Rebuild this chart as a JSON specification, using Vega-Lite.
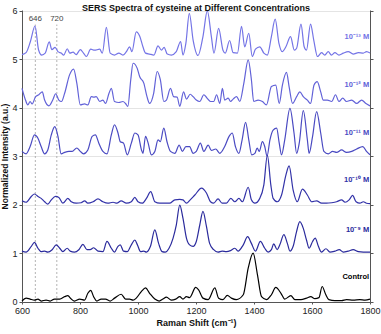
{
  "$schema": "https://vega.github.io/schema/vega-lite/v6.json",
  "width": 348,
  "height": 292,
  "autosize": "none",
  "padding": {"left": 22, "top": 10, "right": 11, "bottom": 31},
  "background": "white",
  "title": {"text": "SERS Spectra of cysteine at Different Concentrations", "fontSize": 9, "font": "Liberation Sans", "fontWeight": "bold", "color": "#111", "anchor": "middle", "offset": -6},
  "config": {"view": {"stroke": null}, "font": "Liberation Sans"},
  "datasets": {
    "spec": [
      {"s":"13","x":600,"y":5.10},{"s":"13","x":614,"y":5.14},{"s":"13","x":629,"y":5.37},{"s":"13","x":645,"y":5.69},{"s":"13","x":657,"y":5.20},{"s":"13","x":668,"y":5.09},{"s":"13","x":680,"y":5.13},{"s":"13","x":694,"y":5.36},{"s":"13","x":703,"y":5.20},{"s":"13","x":714,"y":5.25},{"s":"13","x":724,"y":5.16},{"s":"13","x":735,"y":5.13},{"s":"13","x":744,"y":5.09},{"s":"13","x":756,"y":5.22},{"s":"13","x":765,"y":5.13},{"s":"13","x":776,"y":5.15},{"s":"13","x":787,"y":5.10},{"s":"13","x":801,"y":5.20},{"s":"13","x":812,"y":5.13},{"s":"13","x":822,"y":5.06},{"s":"13","x":837,"y":5.21},{"s":"13","x":850,"y":5.19},{"s":"13","x":868,"y":5.21},{"s":"13","x":877,"y":5.13},{"s":"13","x":891,"y":5.66},{"s":"13","x":904,"y":5.13},{"s":"13","x":919,"y":5.09},{"s":"13","x":934,"y":5.13},{"s":"13","x":948,"y":5.09},{"s":"13","x":960,"y":5.16},{"s":"13","x":971,"y":5.26},{"s":"13","x":979,"y":5.16},{"s":"13","x":994,"y":5.57},{"s":"13","x":1006,"y":5.48},{"s":"13","x":1017,"y":5.26},{"s":"13","x":1026,"y":5.13},{"s":"13","x":1040,"y":5.11},{"s":"13","x":1055,"y":5.09},{"s":"13","x":1069,"y":5.28},{"s":"13","x":1081,"y":5.19},{"s":"13","x":1090,"y":5.25},{"s":"13","x":1101,"y":5.11},{"s":"13","x":1115,"y":5.09},{"s":"13","x":1132,"y":5.16},{"s":"13","x":1147,"y":5.37},{"s":"13","x":1155,"y":5.09},{"s":"13","x":1165,"y":5.33},{"s":"13","x":1177,"y":5.95},{"s":"13","x":1190,"y":5.40},{"s":"13","x":1207,"y":5.08},{"s":"13","x":1224,"y":5.47},{"s":"13","x":1239,"y":6.0},{"s":"13","x":1253,"y":5.47},{"s":"13","x":1262,"y":5.13},{"s":"13","x":1278,"y":5.64},{"s":"13","x":1293,"y":5.19},{"s":"13","x":1301,"y":5.13},{"s":"13","x":1316,"y":5.39},{"s":"13","x":1328,"y":5.14},{"s":"13","x":1343,"y":5.13},{"s":"13","x":1357,"y":5.68},{"s":"13","x":1368,"y":5.26},{"s":"13","x":1382,"y":5.54},{"s":"13","x":1394,"y":5.06},{"s":"13","x":1405,"y":5.21},{"s":"13","x":1420,"y":5.26},{"s":"13","x":1434,"y":5.13},{"s":"13","x":1446,"y":5.09},{"s":"13","x":1460,"y":5.47},{"s":"13","x":1473,"y":5.83},{"s":"13","x":1486,"y":5.33},{"s":"13","x":1497,"y":5.16},{"s":"13","x":1510,"y":5.26},{"s":"13","x":1526,"y":5.47},{"s":"13","x":1539,"y":5.19},{"s":"13","x":1547,"y":5.23},{"s":"13","x":1562,"y":5.73},{"s":"13","x":1573,"y":5.26},{"s":"13","x":1581,"y":5.19},{"s":"13","x":1595,"y":5.73},{"s":"13","x":1606,"y":5.40},{"s":"13","x":1619,"y":5.06},{"s":"13","x":1633,"y":5.14},{"s":"13","x":1644,"y":5.09},{"s":"13","x":1656,"y":5.16},{"s":"13","x":1667,"y":5.09},{"s":"13","x":1679,"y":5.14},{"s":"13","x":1693,"y":5.09},{"s":"13","x":1708,"y":5.13},{"s":"13","x":1725,"y":5.16},{"s":"13","x":1742,"y":5.11},{"s":"13","x":1760,"y":5.14},{"s":"13","x":1777,"y":5.13},{"s":"13","x":1788,"y":5.16},{"s":"13","x":1800,"y":5.13},

      {"s":"12","x":600,"y":4.40},{"s":"12","x":612,"y":4.16},{"s":"12","x":620,"y":4.06},{"s":"12","x":628,"y":4.13},{"s":"12","x":635,"y":4.08},{"s":"12","x":647,"y":4.23},{"s":"12","x":658,"y":4.27},{"s":"12","x":670,"y":4.33},{"s":"12","x":678,"y":4.16},{"s":"12","x":693,"y":4.04},{"s":"12","x":706,"y":4.16},{"s":"12","x":716,"y":4.29},{"s":"12","x":727,"y":4.16},{"s":"12","x":736,"y":4.13},{"s":"12","x":747,"y":4.30},{"s":"12","x":764,"y":4.68},{"s":"12","x":778,"y":4.80},{"s":"12","x":789,"y":4.51},{"s":"12","x":801,"y":4.06},{"s":"12","x":816,"y":4.08},{"s":"12","x":827,"y":4.06},{"s":"12","x":839,"y":4.23},{"s":"12","x":848,"y":4.22},{"s":"12","x":856,"y":4.23},{"s":"12","x":868,"y":4.13},{"s":"12","x":879,"y":4.16},{"s":"12","x":888,"y":4.09},{"s":"12","x":900,"y":4.30},{"s":"12","x":908,"y":4.40},{"s":"12","x":919,"y":4.13},{"s":"12","x":934,"y":4.11},{"s":"12","x":948,"y":4.13},{"s":"12","x":957,"y":4.09},{"s":"12","x":965,"y":4.03},{"s":"12","x":975,"y":4.58},{"s":"12","x":983,"y":4.92},{"s":"12","x":997,"y":4.82},{"s":"12","x":1006,"y":4.64},{"s":"12","x":1020,"y":4.51},{"s":"12","x":1031,"y":4.23},{"s":"12","x":1040,"y":4.09},{"s":"12","x":1054,"y":4.30},{"s":"12","x":1066,"y":4.75},{"s":"12","x":1077,"y":4.58},{"s":"12","x":1089,"y":4.13},{"s":"12","x":1098,"y":4.16},{"s":"12","x":1112,"y":4.40},{"s":"12","x":1123,"y":4.23},{"s":"12","x":1135,"y":4.22},{"s":"12","x":1144,"y":4.03},{"s":"12","x":1157,"y":4.33},{"s":"12","x":1167,"y":4.18},{"s":"12","x":1180,"y":4.28},{"s":"12","x":1190,"y":4.23},{"s":"12","x":1201,"y":4.16},{"s":"12","x":1213,"y":4.13},{"s":"12","x":1227,"y":4.27},{"s":"12","x":1238,"y":4.20},{"s":"12","x":1250,"y":4.13},{"s":"12","x":1261,"y":4.13},{"s":"12","x":1271,"y":4.27},{"s":"12","x":1282,"y":4.09},{"s":"12","x":1291,"y":4.40},{"s":"12","x":1299,"y":4.16},{"s":"12","x":1311,"y":4.20},{"s":"12","x":1319,"y":4.13},{"s":"12","x":1328,"y":4.18},{"s":"12","x":1340,"y":4.23},{"s":"12","x":1351,"y":4.13},{"s":"12","x":1365,"y":4.51},{"s":"12","x":1380,"y":4.99},{"s":"12","x":1391,"y":4.58},{"s":"12","x":1399,"y":4.13},{"s":"12","x":1414,"y":4.16},{"s":"12","x":1429,"y":4.13},{"s":"12","x":1443,"y":4.06},{"s":"12","x":1460,"y":4.44},{"s":"12","x":1475,"y":4.47},{"s":"12","x":1487,"y":4.09},{"s":"12","x":1498,"y":4.47},{"s":"12","x":1512,"y":4.73},{"s":"12","x":1521,"y":4.44},{"s":"12","x":1533,"y":4.09},{"s":"12","x":1547,"y":4.23},{"s":"12","x":1558,"y":4.33},{"s":"12","x":1570,"y":4.23},{"s":"12","x":1584,"y":4.16},{"s":"12","x":1595,"y":4.09},{"s":"12","x":1607,"y":4.47},{"s":"12","x":1618,"y":4.54},{"s":"12","x":1630,"y":4.33},{"s":"12","x":1639,"y":4.16},{"s":"12","x":1653,"y":4.16},{"s":"12","x":1668,"y":4.13},{"s":"12","x":1681,"y":4.27},{"s":"12","x":1693,"y":4.13},{"s":"12","x":1706,"y":4.20},{"s":"12","x":1719,"y":4.13},{"s":"12","x":1737,"y":4.16},{"s":"12","x":1754,"y":4.09},{"s":"12","x":1771,"y":4.16},{"s":"12","x":1786,"y":4.09},{"s":"12","x":1800,"y":4.04},

      {"s":"11","x":600,"y":3.10},{"s":"11","x":614,"y":3.05},{"s":"11","x":628,"y":3.20},{"s":"11","x":643,"y":3.44},{"s":"11","x":655,"y":3.37},{"s":"11","x":666,"y":3.20},{"s":"11","x":678,"y":3.05},{"s":"11","x":689,"y":3.13},{"s":"11","x":701,"y":3.44},{"s":"11","x":713,"y":3.61},{"s":"11","x":724,"y":3.41},{"s":"11","x":735,"y":3.05},{"s":"11","x":747,"y":3.08},{"s":"11","x":762,"y":3.10},{"s":"11","x":773,"y":3.10},{"s":"11","x":789,"y":3.17},{"s":"11","x":801,"y":3.10},{"s":"11","x":812,"y":3.05},{"s":"11","x":827,"y":3.13},{"s":"11","x":842,"y":3.41},{"s":"11","x":853,"y":3.44},{"s":"11","x":865,"y":3.27},{"s":"11","x":879,"y":3.10},{"s":"11","x":893,"y":3.05},{"s":"11","x":908,"y":3.44},{"s":"11","x":919,"y":3.65},{"s":"11","x":931,"y":3.48},{"s":"11","x":939,"y":3.30},{"s":"11","x":950,"y":3.27},{"s":"11","x":963,"y":3.03},{"s":"11","x":977,"y":3.27},{"s":"11","x":989,"y":3.48},{"s":"11","x":1000,"y":3.44},{"s":"11","x":1012,"y":3.13},{"s":"11","x":1017,"y":3.06},{"s":"11","x":1026,"y":3.41},{"s":"11","x":1035,"y":3.27},{"s":"11","x":1046,"y":3.03},{"s":"11","x":1058,"y":3.10},{"s":"11","x":1069,"y":3.34},{"s":"11","x":1077,"y":3.30},{"s":"11","x":1089,"y":3.58},{"s":"11","x":1100,"y":3.30},{"s":"11","x":1112,"y":3.10},{"s":"11","x":1127,"y":3.06},{"s":"11","x":1142,"y":3.23},{"s":"11","x":1153,"y":3.10},{"s":"11","x":1165,"y":3.20},{"s":"11","x":1178,"y":3.20},{"s":"11","x":1190,"y":3.06},{"s":"11","x":1201,"y":3.10},{"s":"11","x":1215,"y":3.27},{"s":"11","x":1227,"y":3.10},{"s":"11","x":1242,"y":3.23},{"s":"11","x":1253,"y":3.12},{"s":"11","x":1268,"y":3.15},{"s":"11","x":1282,"y":3.06},{"s":"11","x":1299,"y":3.20},{"s":"11","x":1314,"y":3.41},{"s":"11","x":1325,"y":3.48},{"s":"11","x":1336,"y":3.20},{"s":"11","x":1348,"y":3.06},{"s":"11","x":1359,"y":3.34},{"s":"11","x":1371,"y":3.70},{"s":"11","x":1382,"y":3.34},{"s":"11","x":1392,"y":3.03},{"s":"11","x":1403,"y":3.06},{"s":"11","x":1411,"y":3.17},{"s":"11","x":1418,"y":3.10},{"s":"11","x":1429,"y":3.30},{"s":"11","x":1437,"y":3.20},{"s":"11","x":1445,"y":3.00},{"s":"11","x":1455,"y":3.34},{"s":"11","x":1466,"y":3.54},{"s":"11","x":1478,"y":3.58},{"s":"11","x":1487,"y":3.27},{"s":"11","x":1495,"y":3.03},{"s":"11","x":1506,"y":3.34},{"s":"11","x":1524,"y":3.99},{"s":"11","x":1538,"y":3.48},{"s":"11","x":1547,"y":3.06},{"s":"11","x":1556,"y":3.27},{"s":"11","x":1570,"y":3.94},{"s":"11","x":1584,"y":3.34},{"s":"11","x":1590,"y":3.06},{"s":"11","x":1602,"y":3.41},{"s":"11","x":1616,"y":3.92},{"s":"11","x":1630,"y":3.48},{"s":"11","x":1641,"y":3.10},{"s":"11","x":1656,"y":3.05},{"s":"11","x":1671,"y":3.10},{"s":"11","x":1685,"y":3.08},{"s":"11","x":1702,"y":3.13},{"s":"11","x":1719,"y":3.08},{"s":"11","x":1737,"y":3.10},{"s":"11","x":1754,"y":3.15},{"s":"11","x":1775,"y":3.20},{"s":"11","x":1788,"y":3.10},{"s":"11","x":1800,"y":3.03},

      {"s":"10","x":600,"y":2.08},{"s":"10","x":614,"y":2.05},{"s":"10","x":632,"y":2.17},{"s":"10","x":643,"y":2.22},{"s":"10","x":655,"y":2.17},{"s":"10","x":666,"y":2.13},{"s":"10","x":678,"y":2.06},{"s":"10","x":689,"y":2.01},{"s":"10","x":701,"y":2.10},{"s":"10","x":716,"y":2.17},{"s":"10","x":727,"y":2.15},{"s":"10","x":741,"y":2.03},{"s":"10","x":758,"y":2.13},{"s":"10","x":770,"y":2.06},{"s":"10","x":787,"y":2.03},{"s":"10","x":804,"y":2.04},{"s":"10","x":816,"y":2.08},{"s":"10","x":827,"y":2.03},{"s":"10","x":845,"y":2.06},{"s":"10","x":862,"y":2.12},{"s":"10","x":879,"y":2.06},{"s":"10","x":896,"y":2.03},{"s":"10","x":914,"y":2.05},{"s":"10","x":927,"y":2.03},{"s":"10","x":942,"y":2.08},{"s":"10","x":960,"y":2.03},{"s":"10","x":977,"y":2.06},{"s":"10","x":989,"y":2.15},{"s":"10","x":1000,"y":2.06},{"s":"10","x":1015,"y":2.03},{"s":"10","x":1029,"y":2.13},{"s":"10","x":1044,"y":2.27},{"s":"10","x":1058,"y":2.06},{"s":"10","x":1075,"y":2.03},{"s":"10","x":1092,"y":2.03},{"s":"10","x":1109,"y":2.03},{"s":"10","x":1127,"y":2.10},{"s":"10","x":1144,"y":2.11},{"s":"10","x":1155,"y":2.10},{"s":"10","x":1167,"y":2.03},{"s":"10","x":1180,"y":2.10},{"s":"10","x":1196,"y":2.20},{"s":"10","x":1219,"y":2.34},{"s":"10","x":1236,"y":2.24},{"s":"10","x":1250,"y":2.06},{"s":"10","x":1261,"y":2.03},{"s":"10","x":1276,"y":2.12},{"s":"10","x":1290,"y":2.03},{"s":"10","x":1305,"y":2.03},{"s":"10","x":1320,"y":2.13},{"s":"10","x":1334,"y":2.06},{"s":"10","x":1348,"y":2.13},{"s":"10","x":1360,"y":2.06},{"s":"10","x":1380,"y":2.36},{"s":"10","x":1391,"y":2.10},{"s":"10","x":1403,"y":2.03},{"s":"10","x":1420,"y":2.13},{"s":"10","x":1434,"y":2.41},{"s":"10","x":1446,"y":3.02},{"s":"10","x":1458,"y":2.41},{"s":"10","x":1466,"y":2.13},{"s":"10","x":1480,"y":2.06},{"s":"10","x":1495,"y":2.20},{"s":"10","x":1510,"y":2.61},{"s":"10","x":1521,"y":2.80},{"s":"10","x":1535,"y":2.30},{"s":"10","x":1549,"y":2.06},{"s":"10","x":1567,"y":2.32},{"s":"10","x":1584,"y":2.20},{"s":"10","x":1599,"y":2.06},{"s":"10","x":1616,"y":2.08},{"s":"10","x":1633,"y":2.03},{"s":"10","x":1650,"y":2.03},{"s":"10","x":1668,"y":2.04},{"s":"10","x":1685,"y":2.06},{"s":"10","x":1702,"y":2.10},{"s":"10","x":1714,"y":2.05},{"s":"10","x":1728,"y":2.10},{"s":"10","x":1740,"y":2.19},{"s":"10","x":1752,"y":2.06},{"s":"10","x":1765,"y":2.03},{"s":"10","x":1777,"y":2.06},{"s":"10","x":1788,"y":2.03},{"s":"10","x":1800,"y":2.02},

      {"s":"9","x":600,"y":1.04},{"s":"9","x":614,"y":1.02},{"s":"9","x":632,"y":1.14},{"s":"9","x":643,"y":1.22},{"s":"9","x":655,"y":1.10},{"s":"9","x":666,"y":1.03},{"s":"9","x":678,"y":1.04},{"s":"9","x":689,"y":1.02},{"s":"9","x":704,"y":1.07},{"s":"9","x":718,"y":1.17},{"s":"9","x":730,"y":1.10},{"s":"9","x":741,"y":1.03},{"s":"9","x":756,"y":1.10},{"s":"9","x":766,"y":1.04},{"s":"9","x":781,"y":1.02},{"s":"9","x":796,"y":1.07},{"s":"9","x":810,"y":1.18},{"s":"9","x":824,"y":1.07},{"s":"9","x":835,"y":1.07},{"s":"9","x":847,"y":1.11},{"s":"9","x":862,"y":1.04},{"s":"9","x":879,"y":1.03},{"s":"9","x":893,"y":1.24},{"s":"9","x":908,"y":1.10},{"s":"9","x":919,"y":1.02},{"s":"9","x":931,"y":1.14},{"s":"9","x":939,"y":1.17},{"s":"9","x":950,"y":1.04},{"s":"9","x":963,"y":1.03},{"s":"9","x":977,"y":1.17},{"s":"9","x":989,"y":1.27},{"s":"9","x":998,"y":1.17},{"s":"9","x":1009,"y":1.03},{"s":"9","x":1020,"y":1.04},{"s":"9","x":1029,"y":1.02},{"s":"9","x":1043,"y":1.14},{"s":"9","x":1058,"y":1.48},{"s":"9","x":1071,"y":1.20},{"s":"9","x":1083,"y":1.03},{"s":"9","x":1094,"y":1.02},{"s":"9","x":1107,"y":1.10},{"s":"9","x":1121,"y":1.31},{"s":"9","x":1132,"y":1.58},{"s":"9","x":1144,"y":1.99},{"s":"9","x":1155,"y":1.72},{"s":"9","x":1167,"y":1.31},{"s":"9","x":1178,"y":1.17},{"s":"9","x":1190,"y":1.14},{"s":"9","x":1201,"y":1.24},{"s":"9","x":1213,"y":1.58},{"s":"9","x":1224,"y":1.86},{"s":"9","x":1236,"y":1.55},{"s":"9","x":1247,"y":1.20},{"s":"9","x":1261,"y":1.07},{"s":"9","x":1276,"y":1.02},{"s":"9","x":1290,"y":1.04},{"s":"9","x":1305,"y":1.03},{"s":"9","x":1319,"y":1.05},{"s":"9","x":1334,"y":1.10},{"s":"9","x":1345,"y":1.04},{"s":"9","x":1363,"y":1.17},{"s":"9","x":1378,"y":1.34},{"s":"9","x":1391,"y":1.20},{"s":"9","x":1405,"y":1.04},{"s":"9","x":1422,"y":1.24},{"s":"9","x":1437,"y":1.10},{"s":"9","x":1449,"y":1.02},{"s":"9","x":1460,"y":1.07},{"s":"9","x":1468,"y":1.19},{"s":"9","x":1480,"y":1.07},{"s":"9","x":1489,"y":1.17},{"s":"9","x":1503,"y":1.38},{"s":"9","x":1515,"y":1.20},{"s":"9","x":1524,"y":1.04},{"s":"9","x":1535,"y":1.14},{"s":"9","x":1547,"y":1.45},{"s":"9","x":1558,"y":1.65},{"s":"9","x":1570,"y":1.51},{"s":"9","x":1581,"y":1.27},{"s":"9","x":1590,"y":1.10},{"s":"9","x":1602,"y":1.24},{"s":"9","x":1611,"y":1.31},{"s":"9","x":1622,"y":1.14},{"s":"9","x":1633,"y":1.02},{"s":"9","x":1648,"y":1.09},{"s":"9","x":1662,"y":1.02},{"s":"9","x":1679,"y":1.04},{"s":"9","x":1694,"y":1.07},{"s":"9","x":1708,"y":1.02},{"s":"9","x":1725,"y":1.04},{"s":"9","x":1742,"y":1.07},{"s":"9","x":1760,"y":1.03},{"s":"9","x":1777,"y":1.02},{"s":"9","x":1800,"y":1.02},

      {"s":"C","x":600,"y":0.01},{"s":"C","x":614,"y":0.07},{"s":"C","x":628,"y":0.05},{"s":"C","x":643,"y":0.03},{"s":"C","x":655,"y":0.05},{"s":"C","x":666,"y":0.01},{"s":"C","x":683,"y":0.03},{"s":"C","x":697,"y":0.01},{"s":"C","x":712,"y":0.05},{"s":"C","x":730,"y":0.05},{"s":"C","x":747,"y":0.10},{"s":"C","x":758,"y":0.12},{"s":"C","x":770,"y":0.05},{"s":"C","x":781,"y":0.01},{"s":"C","x":799,"y":0.05},{"s":"C","x":816,"y":0.03},{"s":"C","x":827,"y":0.17},{"s":"C","x":837,"y":0.23},{"s":"C","x":847,"y":0.10},{"s":"C","x":858,"y":0.01},{"s":"C","x":873,"y":0.05},{"s":"C","x":888,"y":0.05},{"s":"C","x":904,"y":0.01},{"s":"C","x":919,"y":0.07},{"s":"C","x":942,"y":0.15},{"s":"C","x":957,"y":0.05},{"s":"C","x":971,"y":0.05},{"s":"C","x":983,"y":0.03},{"s":"C","x":994,"y":0.07},{"s":"C","x":1012,"y":0.21},{"s":"C","x":1026,"y":0.28},{"s":"C","x":1040,"y":0.17},{"s":"C","x":1058,"y":0.05},{"s":"C","x":1073,"y":0.01},{"s":"C","x":1086,"y":0.05},{"s":"C","x":1098,"y":0.09},{"s":"C","x":1115,"y":0.03},{"s":"C","x":1130,"y":0.05},{"s":"C","x":1144,"y":0.10},{"s":"C","x":1155,"y":0.05},{"s":"C","x":1167,"y":0.10},{"s":"C","x":1178,"y":0.08},{"s":"C","x":1199,"y":0.29},{"s":"C","x":1209,"y":0.24},{"s":"C","x":1224,"y":0.07},{"s":"C","x":1242,"y":0.04},{"s":"C","x":1265,"y":0.28},{"s":"C","x":1278,"y":0.07},{"s":"C","x":1293,"y":0.04},{"s":"C","x":1308,"y":0.125},{"s":"C","x":1322,"y":0.07},{"s":"C","x":1339,"y":0.04},{"s":"C","x":1363,"y":0.14},{"s":"C","x":1380,"y":0.69},{"s":"C","x":1397,"y":1.00},{"s":"C","x":1412,"y":0.55},{"s":"C","x":1426,"y":0.10},{"s":"C","x":1443,"y":0.04},{"s":"C","x":1460,"y":0.14},{"s":"C","x":1475,"y":0.29},{"s":"C","x":1493,"y":0.17},{"s":"C","x":1506,"y":0.05},{"s":"C","x":1527,"y":0.12},{"s":"C","x":1541,"y":0.04},{"s":"C","x":1562,"y":0.04},{"s":"C","x":1581,"y":0.07},{"s":"C","x":1596,"y":0.10},{"s":"C","x":1610,"y":0.06},{"s":"C","x":1624,"y":0.08},{"s":"C","x":1635,"y":0.31},{"s":"C","x":1647,"y":0.15},{"s":"C","x":1658,"y":0.04},{"s":"C","x":1679,"y":0.02},{"s":"C","x":1702,"y":0.02},{"s":"C","x":1719,"y":0.04},{"s":"C","x":1742,"y":0.03},{"s":"C","x":1765,"y":0.04},{"s":"C","x":1783,"y":0.03},{"s":"C","x":1800,"y":0.05}
    ],
    "labels": [
      {"s":"13","label":"10⁻¹³ M","x":1797,"y":5.47},
      {"s":"12","label":"10⁻¹² M","x":1797,"y":4.47},
      {"s":"11","label":"10⁻¹¹ M","x":1797,"y":3.48},
      {"s":"10","label":"10⁻¹⁰ M","x":1797,"y":2.50},
      {"s":"9","label":"10⁻⁹ M","x":1797,"y":1.48},
      {"s":"C","label":"Control","x":1797,"y":0.50}
    ],
    "vlines": [{"v":800},{"v":1000},{"v":1200},{"v":1400},{"v":1600}],
    "marks": [{"v":646,"t":"646"},{"v":720,"t":"720"}]
  },
  "resolve": {"axis": {"y": "independent"}},
  "layer": [
    {
      "data": {"name": "vlines"},
      "mark": {"type": "rule", "stroke": "#b0b0b0", "strokeWidth": 0.8, "strokeDash": [4, 3]},
      "encoding": {
        "x": {"field": "v", "type": "quantitative", "scale": {"domain": [600, 1800], "nice": false, "zero": false},
          "axis": {"values": [600, 800, 1000, 1200, 1400, 1600, 1800], "format": "d", "title": "Raman Shift (cm⁻¹)", "titleFontSize": 9, "titleFontWeight": "bold", "titleColor": "#111", "titlePadding": 3, "labelFontSize": 9, "labelColor": "#222", "labelPadding": 2, "tickSize": 2, "tickColor": "#555", "domainColor": "#555", "grid": false, "labelFlush": false}},
        "y": {"field": "none", "type": "quantitative", "scale": {"domain": [-0.01, 6.02], "nice": false, "zero": false},
          "axis": {"orient": "left", "values": [0, 1, 2, 3, 4, 5, 6], "title": "Normalized Intensity (a.u.)", "titleFontSize": 8.5, "titleFontWeight": "bold", "titleColor": "#111", "titlePadding": 2, "labelFontSize": 9, "labelColor": "#222", "labelPadding": 2, "tickSize": 3, "tickColor": "#555", "domainColor": "#555", "grid": true, "gridColor": "#e4e4e4", "gridWidth": 1}}
      }
    },
    {
      "data": {"name": "labels"},
      "mark": {"type": "text", "fontSize": 7.5, "fontWeight": "bold", "align": "right", "baseline": "middle"},
      "encoding": {
        "x": {"field": "x", "type": "quantitative"},
        "y": {"field": "y", "type": "quantitative", "axis": {"orient": "right", "values": [0, 1, 2, 3, 4, 5, 6], "labels": false, "title": null, "ticks": true, "tickSize": 3, "tickColor": "#555", "domainColor": "#555", "grid": false}},
        "text": {"field": "label"},
        "color": {"field": "s", "type": "nominal", "scale": {"domain": ["13", "12", "11", "10", "9", "C"], "range": ["#7474e6", "#6262d8", "#4a4ac2", "#3232a8", "#2a2a9c", "#000000"]}, "legend": null}
      }
    },
    {
      "data": {"name": "marks"},
      "mark": {"type": "rule", "stroke": "#a0a0a0", "strokeWidth": 0.8, "strokeDash": [2, 2]},
      "encoding": {
        "x": {"field": "v", "type": "quantitative"},
        "y": {"datum": -0.01, "type": "quantitative", "axis": null},
        "y2": {"datum": 5.72}
      }
    },
    {
      "data": {"name": "marks"},
      "mark": {"type": "text", "fontSize": 8, "color": "#444", "baseline": "middle", "align": "center"},
      "encoding": {
        "x": {"field": "v", "type": "quantitative"},
        "y": {"datum": 5.83, "type": "quantitative", "axis": null},
        "text": {"field": "t"}
      }
    },
    {
      "data": {"name": "spec"},
      "mark": {"type": "line", "interpolate": "monotone", "strokeWidth": 1.2},
      "encoding": {
        "x": {"field": "x", "type": "quantitative"},
        "y": {"field": "y", "type": "quantitative", "axis": null},
        "color": {"field": "s", "type": "nominal", "legend": null}
      }
    }
  ]
}
